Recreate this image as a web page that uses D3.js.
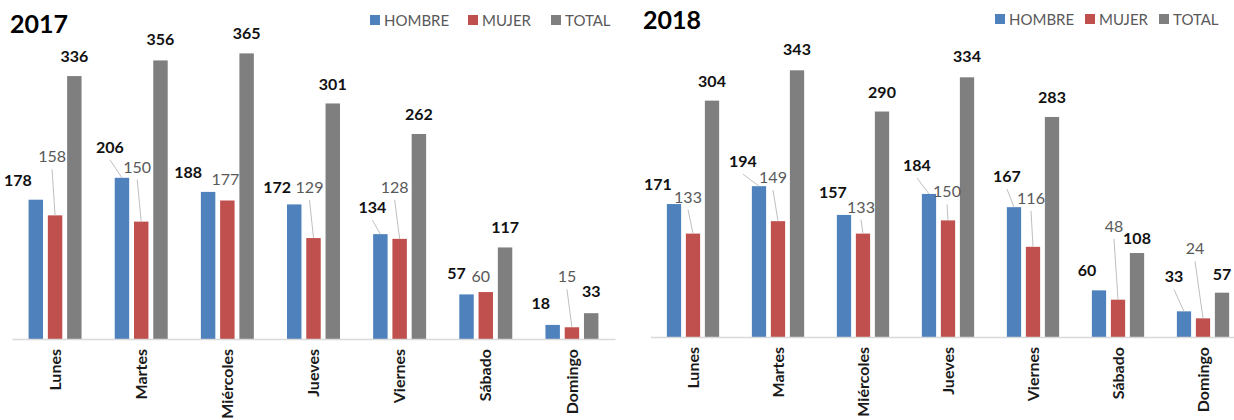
<!DOCTYPE html>
<html>
<head>
<meta charset="utf-8">
<script src="https://cdn.jsdelivr.net/npm/d3@7"></script>
<style>
  body { margin: 0; background: #fff; }
  svg { display: block; font-family: Lato, "Open Sans", sans-serif; }
</style>
</head>
<body>
<svg id="chart" width="1234" height="420"></svg>
<script>
const days = ['Lunes', 'Martes', 'Miércoles', 'Jueves', 'Viernes', 'Sábado', 'Domingo'];
const seriesNames = ['HOMBRE', 'MUJER', 'TOTAL'];

const hombre2017 = [178, 206, 188, 172, 134, 57, 18];
const mujer2017 = [158, 150, 177, 129, 128, 60, 15];
const total2017 = [336, 356, 365, 301, 262, 117, 33];

const hombre2018 = [171, 194, 157, 184, 167, 60, 33];
const mujer2018 = [133, 149, 133, 150, 116, 48, 24];
const total2018 = [304, 343, 290, 334, 283, 108, 57];

// label nudges [dx, dy, leader line] relative to the default spot above the bar
const nudges2017 = {
  HOMBRE: [[-18, 0, 0], [-12, -11, 1], [-20, 0, 0], [-17, 3, 0], [-8, -7, 1], [-10, -1, 0], [-12, -2, 0]],
  MUJER: [[-3, -39, 1], [-4, -35, 1], [-2, -1, 0], [-4, -31, 1], [-5, -32, 1], [-5, 4, 0], [-5, -31, 1]],
  TOTAL: [[0, 0, 0], [0, -1, 0], [0, 0, 0], [0, 1, 0], [0, 0, 0], [0, 0, 0], [0, -2, 0]]
};
const nudges2018 = {
  HOMBRE: [[-16, 0, 0], [-16, -5, 1], [-11, -3, 0], [-12, -9, 1], [-7, -11, 1], [-12, 0, 0], [-10, -15, 1]],
  MUJER: [[-5, -17, 1], [-5, -24, 1], [-2, -7, 1], [-1, -9, 1], [-2, -29, 1], [-4, -54, 1], [-8, -50, 1]],
  TOTAL: [[0, 0, 0], [0, -1, 0], [0, 0, 0], [0, -1, 0], [0, 0, 0], [0, 5, 0], [0, 1, 0]]
};

const colors = { HOMBRE: '#4F81BD', MUJER: '#C0504D', TOTAL: '#7F7F7F' };

const panels = [
  {
    title: '2017', titleX: 10, titleY: 33,
    values: { HOMBRE: hombre2017, MUJER: mujer2017, TOTAL: total2017 },
    nudges: nudges2017,
    x0: 12, x1: 615, base: 339, top: 26,
    legendX: [370, 468, 551], legendY: 26
  },
  {
    title: '2018', titleX: 643, titleY: 29,
    values: { HOMBRE: hombre2018, MUJER: mujer2018, TOTAL: total2018 },
    nudges: nudges2018,
    x0: 650.5, x1: 1245.5, base: 337, top: 26,
    legendX: [995, 1085, 1159], legendY: 25
  }
];

const svg = d3.select('#chart');

panels.forEach(p => {
  const g = svg.append('g');

  const x = d3.scaleBand()
    .domain(days)
    .range([p.x0, p.x1])
    .paddingInner(0.385)
    .paddingOuter(0.1925);

  const xs = d3.scaleBand()
    .domain(seriesNames)
    .range([0, x.bandwidth()])
    .paddingInner(0.25);

  const y = d3.scaleLinear()
    .domain([0, 400])
    .range([p.base, p.top]);

  // bars
  seriesNames.forEach(s => {
    g.append('g')
      .selectAll('rect')
      .data(p.values[s])
      .enter()
      .append('rect')
      .attr('x', (d, i) => x(days[i]) + xs(s))
      .attr('y', d => y(d))
      .attr('width', xs.bandwidth())
      .attr('height', d => y(0) - y(d))
      .attr('fill', colors[s]);
  });

  // axis
  const axis = g.append('g')
    .attr('transform', `translate(0,${p.base})`)
    .call(d3.axisBottom(x).tickSize(0).tickSizeOuter(0));

  axis.select('.domain')
    .attr('stroke', '#D9D9D9')
    .attr('stroke-width', 1.5);

  axis.selectAll('.tick text')
    .attr('transform', 'rotate(-90)')
    .attr('x', -10)
    .attr('y', 0)
    .attr('dy', '0.35em')
    .style('text-anchor', 'end')
    .style('font-size', '16px')
    .style('font-weight', 'bold')
    .style('font-family', 'Lato, sans-serif')
    .attr('fill', '#1a1a1a');

  // data labels + leader lines
  seriesNames.forEach(s => {
    const lab = g.append('g');
    p.values[s].forEach((v, i) => {
      const [dx, dy, leader] = p.nudges[s][i];
      const cx = x(days[i]) + xs(s) + xs.bandwidth() / 2;
      const lx = cx + dx;
      const ly = y(v) - 14 + dy;

      if (leader) {
        lab.append('line')
          .attr('x1', lx)
          .attr('y1', ly + 7)
          .attr('x2', cx)
          .attr('y2', y(v))
          .attr('stroke', '#BFBFBF')
          .attr('stroke-width', 1);
      }

      lab.append('text')
        .attr('x', lx)
        .attr('y', ly)
        .attr('text-anchor', 'middle')
        .style('font-size', '16px')
        .style('font-weight', s === 'MUJER' ? 'normal' : 'bold')
        .attr('fill', s === 'MUJER' ? '#595959' : '#111')
        .text(v);
    });
  });

  // title
  g.append('text')
    .attr('x', p.titleX)
    .attr('y', p.titleY)
    .style('font-size', '25px')
    .style('font-weight', 'bold')
    .attr('fill', '#000')
    .text(p.title);

  // legend
  const leg = g.append('g');
  seriesNames.forEach((s, i) => {
    leg.append('rect')
      .attr('x', p.legendX[i])
      .attr('y', p.legendY - 11)
      .attr('width', 10)
      .attr('height', 10)
      .attr('fill', colors[s]);
    leg.append('text')
      .attr('x', p.legendX[i] + 14)
      .attr('y', p.legendY)
      .style('font-size', '15px')
      .attr('fill', '#595959')
      .text(s);
  });
});
</script>
</body>
</html>
